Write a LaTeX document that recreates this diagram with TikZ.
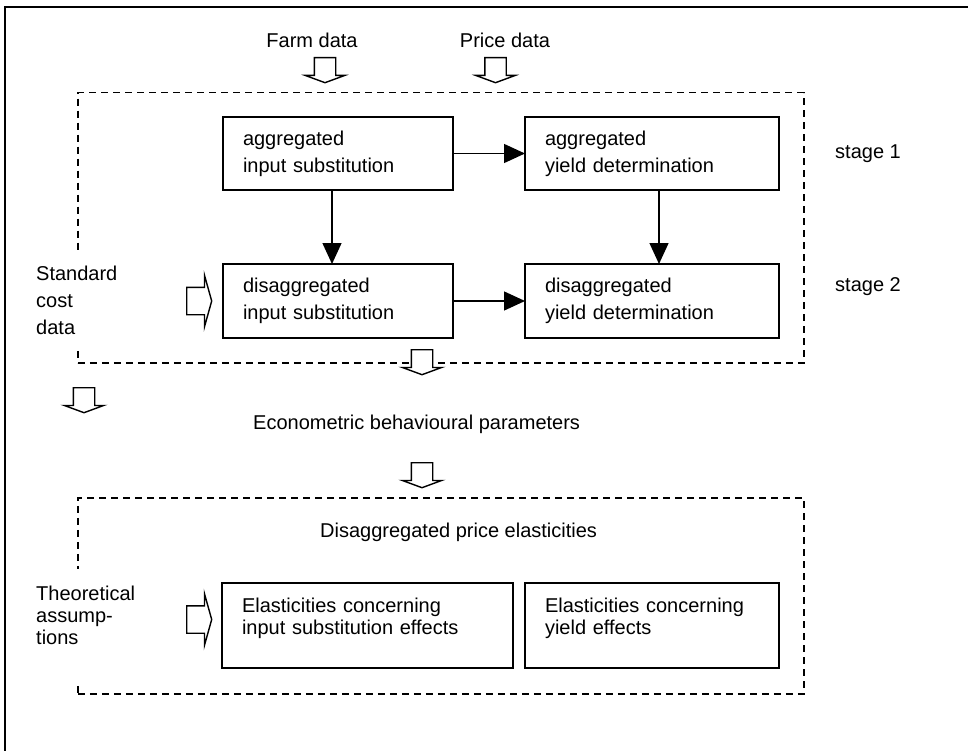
\documentclass[tikz,border=0pt]{standalone}
\usepackage{fontspec}
\setmainfont{Liberation Sans}
\usetikzlibrary{arrows.meta,positioning,shapes.arrows}

\begin{document}
\begin{tikzpicture}[x=1pt, y=-1pt,
    every node/.style={font=\fontsize{20}{27}\selectfont, inner sep=0pt},
    stepbox/.style={rectangle, draw=black, line width=1.5pt,
                    anchor=north west, align=left, outer sep=0pt,
                    inner xsep=20pt, inner ysep=0pt},
    effectbox/.style={stepbox, font=\fontsize{20}{22}\selectfont,
                      inner ysep=15.4pt, text depth=39.6pt,
                      minimum height=85pt},
    areabox/.style={rectangle, draw=black, line width=1.5pt,
                    dash pattern=on 7pt off 5pt, anchor=north west},
    flow/.style={-{Triangle[length=21pt,width=19pt]}, line width=1.4pt},
    inflow/.style={single arrow, draw=black, fill=white, line width=1.4pt,
                   inner xsep=0pt, inner ysep=10pt,
                   single arrow head extend=9pt,
                   single arrow tip angle=139.6,
                   minimum height=25pt, rotate=-90, anchor=tail},
    sideflow/.style={single arrow, draw=black, fill=white, line width=1.4pt,
                     inner xsep=0pt, inner ysep=13pt,
                     single arrow head extend=12pt,
                     single arrow tip angle=148.7,
                     minimum height=25pt, anchor=tail},
    sidetext/.style={fill=white, align=left, anchor=base west}]

    \useasboundingbox (0,0) rectangle (968,751);
    \draw [line width=2pt] (5,751) -- (5,7) -- (968,7);

    % estimation area
    \node (estimArea) [areabox, minimum width=726pt, minimum height=270pt]
          at (77,92) {};
    \node (aggInput) [stepbox, minimum width=230pt, minimum height=73pt,
                      text width=190pt]
          at (223,117) {aggregated\\input substitution};
    \node (aggYield) [stepbox, minimum width=254pt, minimum height=73pt,
                      text width=214pt]
                     [right=72pt of aggInput]
          {aggregated\\yield determination};
    \node (disInput) [stepbox, minimum width=230pt, minimum height=74pt,
                      text width=190pt]
                     [below=74pt of aggInput]
          {disaggregated\\input substitution};
    \node (disYield) [stepbox, minimum width=254pt, minimum height=74pt,
                      text width=214pt]
                     [right=72pt of disInput]
          {disaggregated\\yield determination};

    \draw [flow] (aggInput) -- (aggYield);
    \draw [flow] ([xshift=-6pt]aggInput.south) -- ([xshift=-6pt]disInput.north);
    \draw [flow] ([xshift=7pt]aggYield.south) -- ([xshift=7pt]disYield.north);
    \draw [flow] (disInput) -- (disYield);

    \node (stage1) [right=56pt of aggYield] {stage 1};
    \node (stage2) [below=115pt of stage1] {stage 2};

    \node (farmData) [anchor=base] at (312,48) {Farm data};
    \node (priceData) [anchor=base] at (505,48) {Price data};
    \node (farmArrow) [inflow] at (325,57) {};
    \node (priceArrow) [inflow] at (495.5,57) {};

    \node (stdCost) [sidetext, text width=85pt, inner ysep=15pt]
          at (36,280.7) {Standard\\cost\\data};
    \node (costArrow) [sideflow] at (186,301) {};

    \node (outArrow) [inflow] at (422,349) {};
    \node (leftArrow) [inflow] at (84,387) {};
    \node (econParams) [anchor=base west] at (253,429)
          {Econometric behavioural parameters};
    \node (paramArrow) [inflow] at (422,462) {};

    % elasticity area
    \node (elastArea) [areabox, minimum width=726pt, minimum height=196pt]
          at (77,497) {};
    \node (priceElast) [anchor=base west] at (320,537)
          {Disaggregated price elasticities};
    \node (elastInput) [effectbox, minimum width=291pt, text width=251pt]
          at (222,583) {Elasticities concerning\\input substitution effects};
    \node (elastYield) [effectbox, minimum width=254pt, text width=214pt]
                       [right=12pt of elastInput]
          {Elasticities concerning\\yield effects};

    \node (theory) [sidetext, text width=100pt,
                    font=\fontsize{20}{22}\selectfont,
                    inner ysep=17pt, text depth=65pt] at (36,600)
          {Theoretical\\assump-\\tions};
    \node (theoryArrow) [sideflow] at (186,619.5) {};
\end{tikzpicture}
\end{document}
